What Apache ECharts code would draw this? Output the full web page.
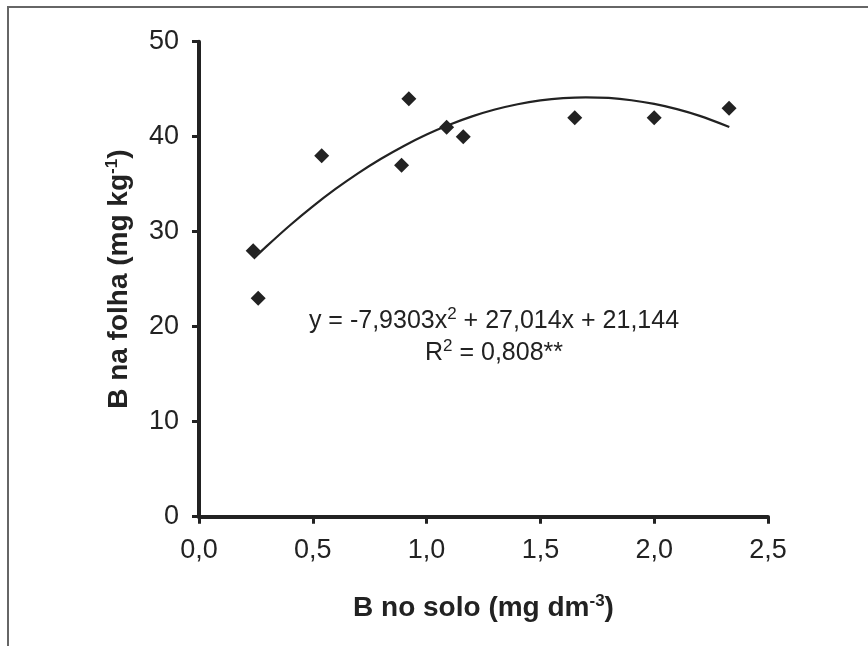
<!DOCTYPE html>
<html>
<head>
<meta charset="utf-8">
<script src="https://cdn.jsdelivr.net/npm/echarts@6/dist/echarts.min.js"></script>
<style>html,body{margin:0;padding:0;background:#fff}#c{width:868px;height:646px}</style>
</head>
<body>
<div id="c"></div>
<script>
// Observed data points (B no solo, B na folha)
const soilB = [0.238, 0.26, 0.539, 0.89, 0.922, 1.088, 1.161, 1.651, 2.0, 2.329];
const leafB = [28.0, 23.0, 38.0, 37.0, 44.0, 41.0, 40.0, 42.0, 42.0, 43.0];
// Trend line points
const trendX = [0.24, 0.3, 0.4, 0.5, 0.6, 0.7, 0.8, 0.9, 1.0, 1.1, 1.2, 1.3, 1.4, 1.5, 1.6, 1.7, 1.8, 1.9, 2.0, 2.1, 2.2, 2.33];
const trendY = [27.17, 28.53, 30.68, 32.67, 34.50, 36.17, 37.68, 39.03, 40.23, 41.26, 42.14, 42.86, 43.42, 43.82, 44.06, 44.15, 44.08, 43.84, 43.45, 42.90, 42.19, 41.03];
const xTicks = [0, 0.5, 1.0, 1.5, 2.0, 2.5];
const yTicks = [0, 10, 20, 30, 40, 50];

const FONT = '"Liberation Sans", Arial, sans-serif';
const INK = '#222';

const chart = echarts.init(document.getElementById('c'), null, {renderer: 'canvas'});
chart.setOption({
  backgroundColor: '#fff',
  animation: false,
  textStyle: {fontFamily: FONT},
  grid: {left: 199, right: 100, top: 41.7, bottom: 129.3, containLabel: false},
  xAxis: {
    type: 'value', min: xTicks[0], max: xTicks[xTicks.length - 1], interval: 0.5,
    splitLine: {show: false},
    axisLine: {show: true, onZero: false, lineStyle: {color: INK, width: 4}},
    axisTick: {show: true, inside: false, length: 7, lineStyle: {color: INK, width: 3}},
    axisLabel: {color: INK, fontSize: 27, fontFamily: FONT, margin: 20,
      formatter: v => v.toFixed(1).replace('.', ',')},
    name: '{b|B no solo (mg dm}{s|-3}{b|)}',
    nameLocation: 'middle', nameGap: 76,
    nameTextStyle: {rich: {
      b: {fontSize: 28, fontWeight: 'bold', color: INK, fontFamily: FONT},
      s: {fontSize: 17, fontWeight: 'bold', color: INK, fontFamily: FONT, verticalAlign: 'top', padding: [0, 0, 14, 0]}
    }}
  },
  yAxis: {
    type: 'value', min: yTicks[0], max: yTicks[yTicks.length - 1], interval: 10,
    splitLine: {show: false},
    axisLine: {show: true, onZero: false, lineStyle: {color: INK, width: 4}},
    axisTick: {show: true, inside: false, length: 7, lineStyle: {color: INK, width: 3}},
    axisLabel: {color: INK, fontSize: 27, fontFamily: FONT, margin: 20},
    name: '{b|B na folha (mg kg}{s|-1}{b|)}',
    nameLocation: 'middle', nameGap: 64, nameRotate: 90,
    nameTextStyle: {rich: {
      b: {fontSize: 28, fontWeight: 'bold', color: INK, fontFamily: FONT},
      s: {fontSize: 17, fontWeight: 'bold', color: INK, fontFamily: FONT, verticalAlign: 'top', padding: [0, 0, 14, 0]}
    }}
  },
  series: [
    {
      type: 'line', data: trendX.map((x, i) => [x, trendY[i]]),
      smooth: 0.3, showSymbol: false, symbol: 'none',
      lineStyle: {color: INK, width: 2.2}, z: 2
    },
    {
      type: 'scatter', data: soilB.map((x, i) => [x, leafB[i]]),
      symbol: 'diamond', symbolSize: [15, 15],
      itemStyle: {color: INK, opacity: 1}, z: 3
    }
  ],
  graphic: [
    {type: 'rect', shape: {x: 8, y: 7, width: 900, height: 700}, style: {fill: 'none', stroke: '#666', lineWidth: 2}, silent: true, z: 0},
    {type: 'text', x: 494, y: 321, style: {
      text: '{n|y = -7,9303x}{s|2}{n| + 27,014x + 21,144}',
      align: 'center', verticalAlign: 'middle',
      rich: {n: {fontSize: 25, fill: INK, fontFamily: FONT}, s: {fontSize: 17, fill: INK, fontFamily: FONT, verticalAlign: 'top', padding: [0, 0, 14, 0]}}
    }},
    {type: 'text', x: 494, y: 353, style: {
      text: '{n|R}{s|2}{n| = 0,808**}',
      align: 'center', verticalAlign: 'middle',
      rich: {n: {fontSize: 25, fill: INK, fontFamily: FONT}, s: {fontSize: 17, fill: INK, fontFamily: FONT, verticalAlign: 'top', padding: [0, 0, 14, 0]}}
    }}
  ]
});
</script>
</body>
</html>
